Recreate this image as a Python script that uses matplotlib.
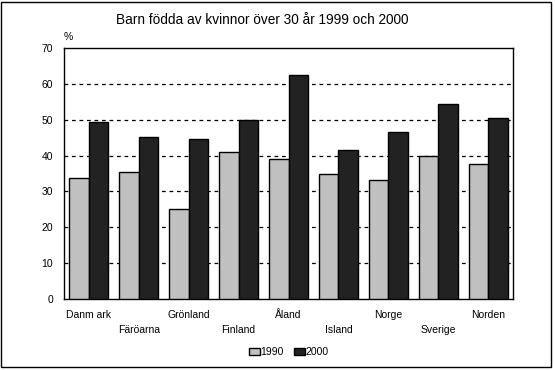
import numpy as np
import matplotlib
matplotlib.use("Agg")
import matplotlib.pyplot as plt
from matplotlib.patches import Rectangle

plt.rcParams['font.family'] = ['Liberation Sans', 'DejaVu Sans']

countries = ["Danmark", "Färöarna", "Grönland", "Finland", "Åland",
             "Island", "Norge", "Sverige", "Norden"]
tick_labels = ["Danm ark", "Färöarna", "Grönland", "Finland", "Åland",
               "Island", "Norge", "Sverige", "Norden"]
v1990 = [33.7, 35.3, 25.0, 40.9, 39.0, 35.0, 33.1, 39.8, 37.6]
v2000 = [49.3, 45.1, 44.5, 49.9, 62.4, 41.5, 46.6, 54.4, 50.4]
yticks = [0, 10, 20, 30, 40, 50, 60, 70]

fig = plt.figure(figsize=(5.55, 3.7), dpi=100)
ax = fig.add_axes([64/555, 1-299/370, 449/555, 251/370])

x = np.arange(len(countries))
w = 0.39
ax.bar(x - w/2, v1990, w, color="#c0c0c0", edgecolor="black", linewidth=1, label="1990", zorder=3)
ax.bar(x + w/2, v2000, w, color="#222222", edgecolor="black", linewidth=1, label="2000", zorder=3)

ax.set_xlim(-0.5, len(countries) - 0.5)
ax.set_ylim(0, 70)
ax.set_yticks(yticks)
ax.set_yticklabels([str(t) for t in yticks], fontsize=7.5)
ax.tick_params(axis="y", length=0, pad=8)
ax.tick_params(axis="x", length=0)
ax.set_xticks(x)
ax.set_xticklabels([])
for i, lab in enumerate(tick_labels):
    ax.text(i, -4.5 if i % 2 == 0 else -8.7, lab, ha="center", va="center", fontsize=7.5)

for t in yticks[1:-1]:
    ax.axhline(t, color="black", linestyle=(0, (3, 3)), linewidth=0.9, zorder=1)
for s in ax.spines.values():
    s.set_linewidth(1)

ax.text(-0.42, 73, "%", fontsize=7.5, ha="center", va="center")
fig.text(262/555, 1 - 20/370, "Barn födda av kvinnor över 30 år 1999 och 2000",
         ha="center", va="center", fontsize=9.8)

leg = fig.legend(loc="center", bbox_to_anchor=(289/555, 1 - 352/370), ncol=2, frameon=False,
                 fontsize=7.5, handlelength=1.0, handleheight=0.7, handletextpad=0.1,
                 columnspacing=1.0)

fig.add_artist(Rectangle((1/555, 3/370), 550/555, 365/370, transform=fig.transFigure,
                         fill=False, edgecolor="black", linewidth=1))

fig.savefig("out.png", dpi=100)
